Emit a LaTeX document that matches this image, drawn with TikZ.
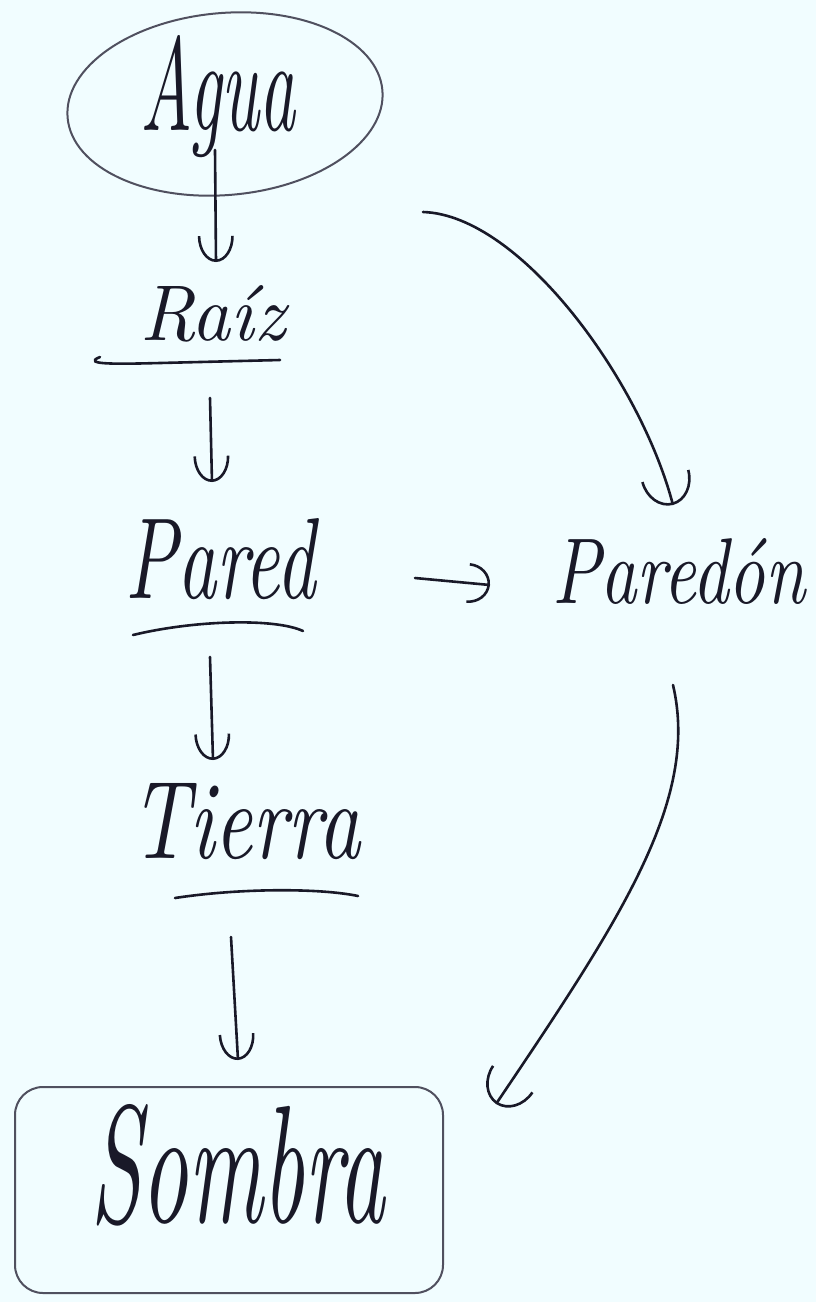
\documentclass[tikz,border=0pt]{standalone}
\usepackage{fontspec}
\usetikzlibrary{arrows.meta,shapes.geometric,calc}
\definecolor{paper}{RGB}{241,253,255}
\definecolor{ink}{RGB}{25,25,40}
\definecolor{pencil}{RGB}{80,80,95}
\tikzset{
  word/.style={inner sep=0pt, anchor=base west, text=ink, font=\itshape},
  pen/.style={draw=ink, line width=2.6pt, line cap=round},
  frame/.style={draw=pencil, line width=2pt},
  arr/.style={pen, -{Arc Barb[length=26pt,width=36pt,line width=2.6pt]}},
  ularr/.style={pen, -{Arc Barb[length=30pt,width=50pt,line width=2.6pt]}},
}
\begin{document}
\begin{tikzpicture}[x=1pt,y=-1pt]
\fill[paper] (0,0) rectangle (816,1302);
\useasboundingbox (0,0) rectangle (816,1302);

% nodes
\node[frame, ellipse, minimum width=316pt, minimum height=182pt, rotate=5] (aguabox) at (225,104) {};
\node[word] (agua) at (140,130) {\resizebox{155pt}{95pt}{Agua}};
\node[word] (raiz) at (140,340) {\resizebox{145pt}{55pt}{Raíz}};
\node[word] (pared) at (125,598) {\resizebox{190pt}{80pt}{Pared}};
\node[word] (tierra) at (130,858) {\resizebox{230pt}{75pt}{Tierra}};
\node[word] (paredon) at (552,603) {\resizebox{253pt}{65pt}{Paredón}};
\node[frame, rounded corners=28pt, minimum width=428pt, minimum height=206pt, inner sep=0pt] (sombrabox) at (229,1190) {};
\node[word] (sombra) at (90,1222) {\resizebox{295pt}{118pt}{Sombra}};

% underlines
\draw[pen] ($(raiz.base west)+(-40,17)$) .. controls ($(raiz.base west)+(-60,25)$) and ($(raiz.base west)+(-20,24)$) .. ($(raiz.base west)+(20,23)$) -- ($(raiz.base west)+(140,20)$);
\draw[pen] ($(pared.base west)+(8,37)$) .. controls ($(pared.base west)+(70,22)$) and ($(pared.base west)+(150,20)$) .. ($(pared.base west)+(178,33)$);
\draw[pen] ($(tierra.base west)+(45,40)$) .. controls ($(tierra.base west)+(110,30)$) and ($(tierra.base west)+(190,30)$) .. ($(tierra.base west)+(228,38)$);

% connectors
\draw[arr] ($(aguabox.center)+(-10,46)$) -- ($(raiz.base west)+(76,-78)$);
\draw[arr] ($(raiz.base west)+(70,58)$) -- ($(pared.base west)+(87,-116)$);
\draw[arr] ($(pared.base west)+(85,59)$) -- ($(tierra.base west)+(83,-98)$);
\draw[arr] ($(tierra.base west)+(101,79)$) -- ($(sombrabox.north)+(9,-26)$);
\draw[pen, -{Arc Barb[length=22pt,width=40pt,line width=2.6pt]}] ($(pared.base west)+(290,-20)$) -- ($(paredon.base west)+(-62,-18)$);
\draw[ularr] ($(aguabox.center)+(198,108)$) .. controls ($(aguabox.center)+(295,111)$) and ($(paredon.base west)+(88,-223)$) .. ($(paredon.base west)+(121,-98)$);
\draw[ularr] ($(paredon.base west)+(121,82)$) .. controls ($(paredon.base west)+(148,197)$) and ($(paredon.base west)+(68,317)$) .. ($(sombrabox.north east)+(52,18)$);
\end{tikzpicture}
\end{document}
